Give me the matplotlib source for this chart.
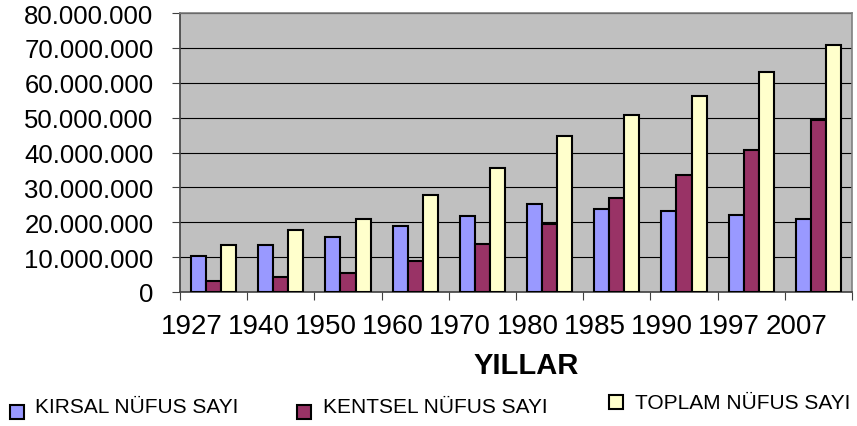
import matplotlib.pyplot as plt
from matplotlib.patches import Rectangle
import numpy as np

# data
years = ['1927', '1940', '1950', '1960', '1970', '1980', '1985', '1990', '1997', '2007']
kirsal = [10.4, 13.5, 15.7, 18.9, 21.9, 25.1, 23.8, 23.2, 22.1, 20.8]
kentsel = [3.2, 4.3, 5.4, 8.9, 13.7, 19.6, 26.9, 33.5, 40.8, 49.4]
toplam = [13.6, 17.8, 20.9, 27.8, 35.6, 44.7, 50.8, 56.3, 63.0, 70.9]
series_names = ['KIRSAL NÜFUS SAYI', 'KENTSEL NÜFUS SAYI', 'TOPLAM NÜFUS SAYI']
colors = ['#9999FF', '#993366', '#FFFFCC']

plt.rcParams['font.family'] = ['Liberation Sans', 'DejaVu Sans']

W, H = 857, 427
fig = plt.figure(figsize=(W / 100, H / 100), dpi=100)
ax = fig.add_axes([180 / W, 1 - 293 / H, 672 / W, 279 / H])
ax.set_facecolor('#C0C0C0')

x = np.arange(len(years)) + 0.5
bw = 0.225
for k, vals in enumerate([kirsal, kentsel, toplam]):
    ax.bar(x + (k - 1) * bw, np.array(vals) * 1e6, width=bw, color=colors[k],
           edgecolor='black', linewidth=1.5, zorder=3)

ax.set_xlim(0, len(years))
ax.set_ylim(0, 80e6)
ax.set_yticks(np.arange(0, 80e6 + 1, 10e6))
ax.set_yticklabels([f'{int(v):,}'.replace(',', '.') for v in np.arange(0, 80e6 + 1, 10e6)])
ax.yaxis.grid(True, color='black', linewidth=0.8, zorder=1)
ax.set_axisbelow(True)

# tick marks at group boundaries, labels slightly right of them
ax.set_xticks(np.arange(len(years) + 1))
ax.set_xticklabels([])
ax.set_xticks(np.arange(len(years)) + 0.17, minor=True)
ax.set_xticklabels(years, minor=True)
ax.tick_params(axis='x', which='major', length=6, color='#404040', direction='out')
ax.tick_params(axis='x', which='minor', length=0, pad=15, labelsize=20)
ax.tick_params(axis='y', length=6, color='#404040', pad=13, labelsize=18.5)

for s in ['top', 'right']:
    ax.spines[s].set_color('#808080')
for s in ['left', 'bottom']:
    ax.spines[s].set_color('#404040')
for s in ax.spines.values():
    s.set_linewidth(1.2)

fig.text(526 / W, 1 - 366 / H, 'YILLAR', fontsize=21, fontweight='bold',
         ha='center', va='center')

# legend
leg_pos = [(10, 406, 35, 408), (297, 406, 323, 408), (609, 396, 635, 404)]
for (sx, sy, tx, ty), name, c in zip(leg_pos, series_names, colors):
    fig.patches.append(Rectangle((sx / W, 1 - (sy + 14) / H), 14 / W, 14 / H,
                                 transform=fig.transFigure, facecolor=c,
                                 edgecolor='black', linewidth=1.5))
    fig.text(tx / W, 1 - ty / H, name, fontsize=15, ha='left', va='center')

fig.savefig('out.png', dpi=100)
